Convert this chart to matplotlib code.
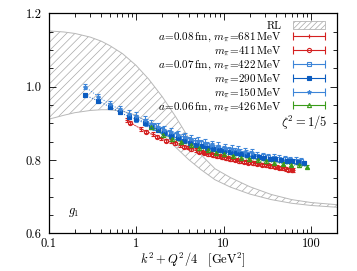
import numpy as np
import matplotlib
matplotlib.use("Agg")
import matplotlib.pyplot as plt
from matplotlib.ticker import MultipleLocator, FixedLocator, NullFormatter
from matplotlib.patches import Patch
from matplotlib.container import ErrorbarContainer
from matplotlib.legend_handler import HandlerErrorbar

plt.rcParams['font.family'] = 'serif'
plt.rcParams['font.serif'] = ['cmr10', 'DejaVu Serif']
plt.rcParams['mathtext.fontset'] = 'cm'
plt.rcParams['axes.formatter.use_mathtext'] = True
plt.rcParams['hatch.linewidth'] = 0.5

# ---- RL band ----
band_x = [0.1, 0.15, 0.2, 0.3, 0.4, 0.5, 0.7, 1.0, 1.4, 2.0, 2.8, 4.0, 5.5, 8.0, 12, 20, 35, 60, 100, 200]
band_hi = [1.152, 1.149, 1.145, 1.135, 1.124, 1.112, 1.090, 1.058, 1.020, 0.972, 0.920, 0.860, 0.815,
           0.776, 0.752, 0.727, 0.706, 0.692, 0.684, 0.678]
band_lo = [0.911, 0.922, 0.929, 0.935, 0.937, 0.937, 0.933, 0.922, 0.902, 0.870, 0.836, 0.801, 0.774,
           0.746, 0.726, 0.707, 0.692, 0.682, 0.676, 0.671]

# ---- a=0.08 fm, 681 MeV ----
r681_x = [0.78, 1.15, 1.57, 1.95, 2.54, 3.15, 3.9, 4.9, 5.6, 6.3, 7.1, 8.0, 9.0, 10.1, 11.3, 12.6, 14.2,
          16.0, 18.0, 20.3, 22.8, 25.6, 28.8, 32.4, 36.4, 41.0, 46.1, 51.8, 58.3, 62.0]
r681_y = [0.909, 0.884, 0.870, 0.859, 0.851, 0.841, 0.834, 0.827, 0.823, 0.820, 0.817, 0.814, 0.811, 0.809,
          0.806, 0.803, 0.801, 0.798, 0.796, 0.794, 0.792, 0.790, 0.788, 0.786, 0.784, 0.782, 0.779, 0.776,
          0.774, 0.772]
r681_e = [0.005] * 30

# ---- 411 MeV ----
r411_x = [0.85, 1.3, 1.75, 2.2, 2.8, 3.5, 4.3, 5.2, 6.0, 6.7, 7.5, 8.5, 9.5, 10.7, 12.0, 13.4, 15.1, 17.0,
          19.1, 21.5, 24.2, 27.2, 30.6, 34.4, 38.7, 43.5, 48.9, 55.0, 60.0]
r411_y = [0.902, 0.877, 0.863, 0.853, 0.845, 0.836, 0.829, 0.823, 0.819, 0.816, 0.813, 0.810, 0.807, 0.805,
          0.802, 0.800, 0.797, 0.795, 0.793, 0.791, 0.789, 0.787, 0.785, 0.783, 0.781, 0.779, 0.777, 0.774,
          0.772]
r411_e = [0.004] * 29

# ---- a=0.07 fm, 422 MeV ----
b422_x = [1.0, 1.3, 1.6, 2.0, 2.4, 2.9, 3.4, 4.0, 4.7, 5.5, 6.4, 7.4, 8.6, 10.0, 11.6, 13.4, 15.5, 18.0,
          20.8, 24.1, 27.9, 32.3, 37.4, 43.3, 50.1, 58.0, 67.1, 77.6]
b422_y = [0.913, 0.902, 0.892, 0.882, 0.874, 0.867, 0.861, 0.855, 0.850, 0.845, 0.840, 0.836, 0.832, 0.829,
          0.826, 0.823, 0.820, 0.817, 0.815, 0.812, 0.810, 0.808, 0.806, 0.804, 0.802, 0.800, 0.798, 0.796]
b422_e = [0.009] * 28

# ---- 290 MeV ----
b290_x = [0.26, 0.37, 0.50, 0.65, 0.83, 1.0, 1.25, 1.5, 1.8, 2.1, 2.5, 3.0, 3.5, 4.1, 4.8, 5.6, 6.5, 7.6,
          8.8, 10.2, 11.9, 13.8, 16.0, 18.6, 21.6, 25.1, 29.1, 33.8, 39.2, 45.5, 52.8, 61.3, 71.1, 82.5]
b290_y = [0.977, 0.961, 0.945, 0.930, 0.918, 0.911, 0.900, 0.890, 0.881, 0.874, 0.866, 0.859, 0.853, 0.847,
          0.842, 0.838, 0.834, 0.830, 0.827, 0.824, 0.821, 0.818, 0.816, 0.813, 0.811, 0.808, 0.806, 0.804,
          0.802, 0.800, 0.798, 0.796, 0.794, 0.792]
b290_e = [0.005] * 34

# ---- 150 MeV ----
b150_x = [0.26, 0.37, 0.50, 0.65, 0.83, 1.0, 1.25, 1.5, 1.8, 2.1, 2.5, 3.0, 3.6, 4.3, 5.1, 6.1, 7.3, 8.7,
          10.4, 12.4, 14.8, 17.6, 21.0]
b150_y = [1.000, 0.973, 0.952, 0.938, 0.926, 0.920, 0.908, 0.899, 0.890, 0.883, 0.875, 0.868, 0.862, 0.856,
          0.851, 0.846, 0.841, 0.837, 0.833, 0.829, 0.826, 0.823, 0.820]
b150_e = [0.007, 0.008, 0.008, 0.009, 0.010, 0.010, 0.011, 0.011, 0.011, 0.011, 0.011, 0.011, 0.011, 0.011,
          0.011, 0.011, 0.011, 0.011, 0.011, 0.011, 0.011, 0.011, 0.011]

# ---- a=0.06 fm, 426 MeV ----
g426_x = [1.5, 2.04, 2.6, 3.3, 4.2, 5.3, 6.6, 8.2, 10.2, 12.7, 15.8, 19.7, 24.5, 30.5, 38.0, 47.3, 58.9,
          73.3, 91.0]
g426_y = [0.891, 0.868, 0.857, 0.848, 0.840, 0.832, 0.826, 0.820, 0.815, 0.810, 0.806, 0.802, 0.799, 0.796,
          0.793, 0.790, 0.787, 0.785, 0.782]
g426_e = [0.004] * 19

xtick_vals = [0.1, 1, 10, 100]
xtick_labels = ['0.1', '1', '10', '100']
ytick_vals = [0.6, 0.8, 1.0, 1.2]
ytick_labels = ['0.6', '0.8', '1.0', '1.2']

RED = '#d42020'
BLUE = '#0b5cc0'
LBLUE = '#3d85d8'
GREEN = '#3a9b1a'

fig = plt.figure(figsize=(3.57, 2.71), dpi=100)
ax = fig.add_axes([0.136, 0.139, 0.809, 0.812])

ax.fill_between(band_x, band_lo, band_hi, facecolor='none', edgecolor='#a8a8a8', hatch='////',
                linewidth=0, zorder=1)
ax.plot(band_x, band_hi, color='#b8b8b8', lw=0.7, zorder=1)
ax.plot(band_x, band_lo, color='#b8b8b8', lw=0.7, zorder=1)

series = [
    (r681_x, r681_y, r681_e, RED, '+', 'none', r'$a\!=\!0.08\,\mathrm{fm},\, m_\pi\!=\!681\,\mathrm{MeV}$'),
    (r411_x, r411_y, r411_e, RED, 'o', 'none', r'$m_\pi\!=\!411\,\mathrm{MeV}$'),
    (b422_x, b422_y, b422_e, LBLUE, 's', 'none', r'$a\!=\!0.07\,\mathrm{fm},\, m_\pi\!=\!422\,\mathrm{MeV}$'),
    (b290_x, b290_y, b290_e, BLUE, 's', BLUE, r'$m_\pi\!=\!290\,\mathrm{MeV}$'),
    (b150_x, b150_y, b150_e, LBLUE, '*', LBLUE, r'$m_\pi\!=\!150\,\mathrm{MeV}$'),
    (g426_x, g426_y, g426_e, GREEN, '^', 'none', r'$a\!=\!0.06\,\mathrm{fm},\, m_\pi\!=\!426\,\mathrm{MeV}$'),
]

handles = [Patch(facecolor='white', edgecolor='#a8a8a8', hatch='//////', linewidth=0.5)]
labels = ['RL']
for x, y, e, c, m, mfc, lab in series:
    ax.errorbar(x, y, yerr=e, fmt=m, color=c, mfc=mfc, mec=c, ms=3.0, mew=0.8, elinewidth=0.7,
                capsize=1.5, capthick=0.7, ls=':', lw=0.7, zorder=3)
    h = ax.errorbar([np.nan], [np.nan], xerr=[1.0], fmt=m, color=c, mfc=mfc, mec=c, ms=3.0, mew=0.8,
                    elinewidth=0.8, capsize=3, capthick=0.8, ls='none')
    handles.append(h)
    labels.append(lab)

ax.set_xscale('log')
ax.set_xlim(0.1, 200)
ax.set_ylim(0.6, 1.2)
ax.set_xticks(xtick_vals)
ax.set_xticklabels(xtick_labels)
ax.set_yticks(ytick_vals)
ax.set_yticklabels(ytick_labels)
ax.yaxis.set_minor_locator(MultipleLocator(0.05))
ax.xaxis.set_minor_locator(FixedLocator([m * 10.0 ** k for k in range(-1, 3) for m in range(2, 10)]))
ax.xaxis.set_minor_formatter(NullFormatter())
ax.tick_params(which='both', direction='in', top=True, right=True, labelsize=9, width=0.6)
ax.tick_params(axis='x', which='major', pad=3.5)
ax.tick_params(axis='y', which='major', pad=5)
ax.tick_params(which='major', length=5)
ax.tick_params(which='minor', length=2.8)
for s in ax.spines.values():
    s.set_linewidth(0.9)

ax.set_xlabel(r'$k^2 + Q^2/4\quad [\mathrm{GeV}^2]$', fontsize=9, labelpad=0)

ax.text(0.167, 0.656, r'$g_1$', fontsize=9, ha='left', va='center')
ax.text(152, 0.90, r'$\zeta^2 = 1/5$', fontsize=9, ha='right', va='center')

leg = ax.legend(handles, labels, loc='upper right', bbox_to_anchor=(0.973, 0.985), borderaxespad=0,
                markerfirst=False, frameon=False, fontsize=8,
                handlelength=2.9, handletextpad=1.0, labelspacing=0.02,
                handler_map={ErrorbarContainer: HandlerErrorbar(xerr_size=1.45, numpoints=1)})

fig.savefig('out.png', dpi=100)
